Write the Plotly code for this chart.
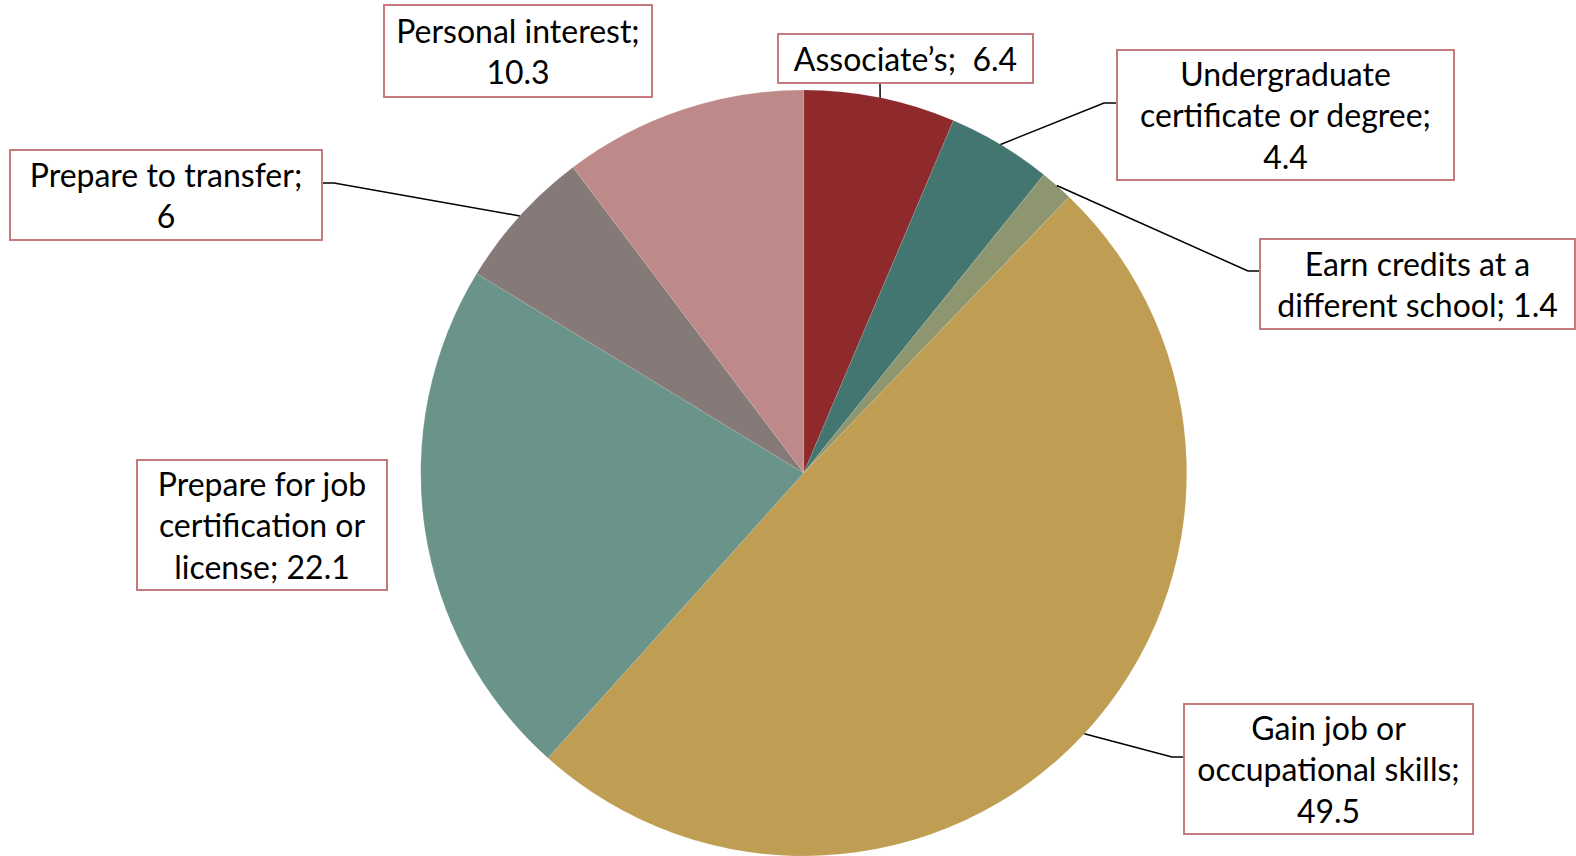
import math
import plotly.graph_objects as go

categories = [
    "Associate’s",
    "Undergraduate certificate or degree",
    "Earn credits at a different school",
    "Gain job or occupational skills",
    "Prepare for job certification or license",
    "Prepare to transfer",
    "Personal interest",
]
values = [6.4, 4.4, 1.4, 49.5, 22.1, 6, 10.3]
label_texts = [
    "Associate’s;&nbsp; 6.4",
    "Undergraduate<br>certificate or degree;<br>4.4",
    "Earn credits at a<br>different school; 1.4",
    "Gain job or<br>occupational skills;<br>49.5",
    "Prepare for job<br>certification or<br>license; 22.1",
    "Prepare to transfer;<br>6",
    "Personal interest;<br>10.3",
]
colors = ["#8E2A2C", "#437571", "#8E9670", "#BF9D52", "#6A938A", "#857A78", "#BD8A89"]

W, H = 1576, 856
# pie geometry in pixels
CX, CY, R = 803.7, 473.0, 383.0

def px(x):
    return x / W

def py(y):
    return 1 - y / H

# label boxes: (left, top, right, bottom) in pixels
boxes = [
    (778, 34, 1033, 83),
    (1117, 50, 1454, 180),
    (1260, 239, 1575, 329),
    (1184, 704, 1473, 834),
    (137, 460, 387, 590),
    (10, 150, 322, 240),
    (384, 5, 652, 97),
]
# leader elbows and end points (None = no leader)
leaders = [
    [(880, 83)],
    [(1104, 103), (1117, 103)],
    [(1248, 271), (1260, 271)],
    [(1172, 757), (1184, 757)],
    None,
    [(334, 183), (322, 183)],
    None,
]

fig = go.Figure()
fig.add_trace(go.Pie(
    labels=categories,
    values=values,
    sort=False,
    direction="clockwise",
    rotation=0,
    marker=dict(colors=colors, line=dict(color="rgba(255,255,255,0.2)", width=0.5)),
    textinfo="none",
    hoverinfo="label+value",
    showlegend=False,
    domain=dict(x=[(CX - R) / W, (CX + R) / W], y=[py(CY + R), py(CY - R)]),
))

total = sum(values)
cum = 0.0
shapes = []
annotations = []
for i, v in enumerate(values):
    mid = (cum + v / 2) / total * 2 * math.pi
    cum += v
    sx = CX + R * math.sin(mid)
    sy = CY - R * math.cos(mid)
    if leaders[i]:
        pts = [(sx, sy)] + leaders[i]
        path = "M " + " L ".join(f"{px(x)},{py(y)}" for x, y in pts)
        shapes.append(dict(type="path", xref="paper", yref="paper", path=path,
                           line=dict(color="black", width=1.5)))
    l, t, r, b = boxes[i]
    annotations.append(dict(
        x=px((l + r) / 2), y=py((t + b) / 2), xref="paper", yref="paper",
        xanchor="center", yanchor="middle", showarrow=False,
        text=label_texts[i], align="center", valign="middle",
        width=r - l - 2, height=b - t - 2,
        bordercolor="#C57B7E", borderwidth=2, borderpad=0,
        bgcolor="white",
        font=dict(family="Lato, sans-serif", size=32, color="black"),
    ))

fig.update_layout(
    width=W, height=H,
    margin=dict(l=0, r=0, t=0, b=0),
    paper_bgcolor="white",
    plot_bgcolor="white",
    shapes=shapes,
    annotations=annotations,
)

fig.write_html(
    "out.html",
    config={"displayModeBar": False},
    post_script="document.body.style.margin='0';document.body.style.overflow='hidden';",
)
